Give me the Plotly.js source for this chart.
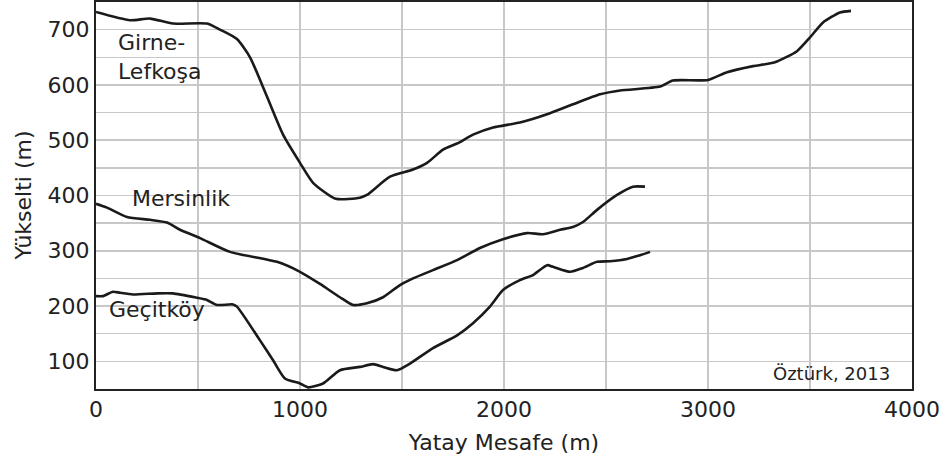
<!DOCTYPE html>
<html>
<head>
<meta charset="utf-8">
<script src="https://cdn.plot.ly/plotly-3.0.1.min.js"></script>
<style>html,body{margin:0;padding:0;background:#fff;}#chart{width:949px;height:463px;}</style>
</head>
<body>
<div id="chart"></div>
<script>
// Girne-Lefkoşa profile
var girneX = [0, 167, 265, 377, 544, 608, 691, 755, 838, 917, 1000, 1064, 1176, 1294, 1328, 1441, 1554, 1623, 1701, 1770, 1848, 1946, 2078, 2211, 2338, 2471, 2569, 2765, 2828, 3000, 3093, 3221, 3328, 3436, 3500, 3564, 3647, 3701];
var girneY = [732, 717, 720, 711, 711, 700, 683, 650, 579, 510, 459, 423, 394, 396, 401, 434, 447, 459, 483, 494, 510, 523, 532, 547, 565, 583, 590, 597, 608, 609, 623, 634, 641, 661, 686, 713, 731, 734];
// Mersinlik profile
var mersinX = [0, 54, 152, 265, 348, 412, 510, 657, 887, 1000, 1098, 1196, 1260, 1328, 1407, 1490, 1554, 1652, 1770, 1882, 1995, 2113, 2191, 2275, 2338, 2387, 2456, 2554, 2632, 2691];
var mersinY = [385, 378, 361, 356, 351, 338, 323, 298, 280, 262, 240, 216, 202, 205, 216, 238, 250, 265, 283, 305, 321, 332, 330, 338, 343, 352, 374, 401, 416, 416];
// Geçitköy profile
var gecitX = [0, 34, 83, 118, 181, 299, 377, 495, 544, 593, 672, 691, 804, 868, 926, 1000, 1039, 1113, 1196, 1294, 1358, 1407, 1475, 1539, 1652, 1770, 1848, 1931, 1995, 2078, 2142, 2211, 2240, 2324, 2387, 2456, 2520, 2603, 2667, 2716];
var gecitY = [218, 218, 226, 224, 221, 223, 223, 215, 211, 202, 203, 199, 138, 102, 69, 60, 53, 60, 84, 90, 95, 90, 84, 96, 124, 147, 169, 199, 229, 247, 256, 274, 271, 262, 269, 280, 281, 285, 292, 298];

var xTicks = [0, 1000, 2000, 3000, 4000];
var yTicks = [100, 200, 300, 400, 500, 600, 700];

var lineStyle = {color: '#1a1a1a', width: 2.6, shape: 'spline', smoothing: 0.6};
var traces = [
  {x: girneX, y: girneY, mode: 'lines', line: lineStyle, hoverinfo: 'skip'},
  {x: mersinX, y: mersinY, mode: 'lines', line: lineStyle, hoverinfo: 'skip'},
  {x: gecitX, y: gecitY, mode: 'lines', line: lineStyle, hoverinfo: 'skip'}
];

var font = {family: 'DejaVu Sans, Verdana, sans-serif', size: 22, color: '#222'};
var layout = {
  width: 949, height: 463,
  margin: {l: 96, r: 37, t: 2, b: 74},
  paper_bgcolor: '#fff', plot_bgcolor: '#fff',
  showlegend: false,
  font: font,
  xaxis: {
    range: [0, 4000], tickvals: xTicks, ticktext: xTicks.map(String),
    showgrid: true, gridcolor: '#c8c8c8', gridwidth: 1.5,
    minor: {dtick: 500, showgrid: true, gridcolor: '#c8c8c8', gridwidth: 1.5},
    showline: true, linecolor: '#222', linewidth: 2, mirror: true,
    zeroline: false, ticks: '', tickfont: font,
    title: {text: 'Yatay Mesafe (m)', font: font, standoff: 13}
  },
  yaxis: {
    range: [50, 750], tickvals: yTicks, ticktext: yTicks.map(String),
    showgrid: true, gridcolor: '#c8c8c8', gridwidth: 1.5,
    minor: {dtick: 50, showgrid: true, gridcolor: '#c8c8c8', gridwidth: 1.5},
    showline: true, linecolor: '#222', linewidth: 2, mirror: true,
    zeroline: false, ticks: '', tickfont: font
  },
  annotations: [
    {x: 0, y: 0.5, xref: 'paper', yref: 'paper', xshift: -73, text: 'Yükselti (m)', textangle: -90, showarrow: false, xanchor: 'center', yanchor: 'middle', font: font},
    {x: 98, y: 650, xref: 'x', yref: 'y', text: 'Girne-<br>Lefkoşa', showarrow: false, xanchor: 'left', yanchor: 'middle', align: 'left', font: font},
    {x: 167, y: 394, xref: 'x', yref: 'y', text: 'Mersinlik', showarrow: false, xanchor: 'left', yanchor: 'middle', font: font},
    {x: 54, y: 193, xref: 'x', yref: 'y', text: 'Geçitköy', showarrow: false, xanchor: 'left', yanchor: 'middle', font: font},
    {x: 3902, y: 78, xref: 'x', yref: 'y', text: 'Öztürk, 2013', showarrow: false, xanchor: 'right', yanchor: 'middle', font: {family: font.family, size: 18, color: '#222'}}
  ]
};

Plotly.newPlot('chart', traces, layout, {staticPlot: true, displayModeBar: false});
</script>
</body>
</html>
